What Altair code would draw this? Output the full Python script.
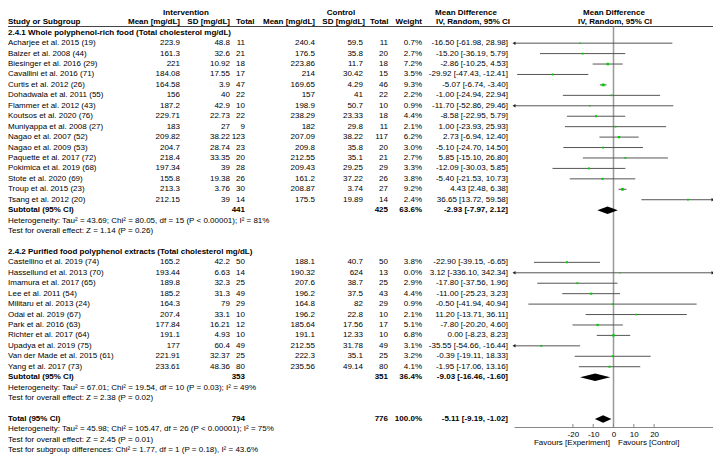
import altair as alt
import pandas as pd

FONT = "Liberation Sans"

# ---------------- data ----------------
g1_study = ["Acharjee et al. 2015 (19)", "Balzer et al. 2008 (44)", "Biesinger et al. 2016 (29)",
            "Cavallini et al. 2016 (71)", "Curtis et al. 2012 (26)", "Dohadwala et al. 2011 (55)",
            "Flammer et al. 2012 (43)", "Koutsos et al. 2020 (76)", "Muniyappa et al. 2008 (27)",
            "Nagao et al. 2007 (52)", "Nagao et al. 2009 (53)", "Paquette et al. 2017 (72)",
            "Pokimica et al. 2019 (68)", "Stote et al. 2020 (69)", "Troup et al. 2015 (23)",
            "Tsang et al. 2012 (20)"]
g1_i_mean = [223.9, 161.3, 221, 184.08, 164.58, 156, 187.2, 229.71, 183, 209.82, 204.7, 218.4, 197.34, 155.8, 213.3, 212.15]
g1_i_sd = [48.8, 32.6, 10.92, 17.55, 3.9, 40, 42.9, 22.73, 27, 38.22, 28.74, 33.35, 39, 19.38, 3.76, 39]
g1_i_n = [11, 21, 18, 17, 47, 22, 10, 22, 9, 123, 23, 20, 28, 26, 30, 14]
g1_c_mean = [240.4, 176.5, 223.86, 214, 169.65, 157, 198.9, 238.29, 182, 207.09, 209.8, 212.55, 209.43, 161.2, 208.87, 175.5]
g1_c_sd = [59.5, 35.8, 11.7, 30.42, 4.29, 41, 50.7, 23.33, 29.8, 38.22, 35.8, 35.1, 29.25, 37.22, 3.74, 19.89]
g1_c_n = [11, 20, 18, 15, 46, 22, 10, 18, 11, 117, 20, 21, 29, 26, 27, 14]
g1_w = [0.7, 2.7, 7.2, 3.5, 9.3, 2.2, 0.9, 4.4, 2.1, 6.2, 3.0, 2.7, 3.3, 3.8, 9.2, 2.4]
g1_md = [-16.50, -15.20, -2.86, -29.92, -5.07, -1.00, -11.70, -8.58, 1.00, 2.73, -5.10, 5.85, -12.09, -5.40, 4.43, 36.65]
g1_lo = [-61.98, -36.19, -10.25, -47.43, -6.74, -24.94, -52.86, -22.95, -23.93, -6.94, -24.70, -15.10, -30.03, -21.53, 2.48, 13.72]
g1_hi = [28.98, 5.79, 4.53, -12.41, -3.40, 22.94, 29.46, 5.79, 25.93, 12.40, 14.50, 26.80, 5.85, 10.73, 6.38, 59.58]

g2_study = ["Castellino et al.  2019 (74)", "Hassellund et al. 2013 (70)", "Imamura et al. 2017 (65)",
            "Lee et al. 2011 (54)", "Militaru et al. 2013 (24)", "Odai et al. 2019 (67)",
            "Park et al. 2016 (63)", "Richter et al. 2017 (64)", "Upadya et al. 2019 (75)",
            "Van der Made et al. 2015 (61)", "Yang et al. 2017 (73)"]
g2_i_mean = [165.2, 193.44, 189.8, 185.2, 164.3, 207.4, 177.84, 191.1, 177, 221.91, 233.61]
g2_i_sd = [42.2, 6.63, 32.3, 31.3, 79, 33.1, 16.21, 4.93, 60.4, 32.37, 48.36]
g2_i_n = [50, 14, 25, 49, 29, 10, 12, 10, 49, 25, 80]
g2_c_mean = [188.1, 190.32, 207.6, 196.2, 164.8, 196.2, 185.64, 191.1, 212.55, 222.3, 235.56]
g2_c_sd = [40.7, 624, 38.7, 37.5, 82, 22.8, 17.56, 12.33, 31.78, 35.1, 49.14]
g2_c_n = [50, 13, 25, 43, 29, 10, 17, 10, 49, 25, 80]
g2_w = [3.8, 0.0, 2.9, 4.4, 0.9, 2.1, 5.1, 6.8, 3.1, 3.2, 4.1]
g2_md = [-22.90, 3.12, -17.80, -11.00, -0.50, 11.20, -7.80, 0.00, -35.55, -0.39, -1.95]
g2_lo = [-39.15, -336.10, -37.56, -25.23, -41.94, -13.71, -20.20, -8.23, -54.66, -19.11, -17.06]
g2_hi = [-6.65, 342.34, 1.96, 3.23, 40.94, 36.11, 4.60, 8.23, -16.44, 18.33, 13.16]

sub_labels = ["2.4.1 Whole polyphenol-rich food (Total cholesterol mg/dL)",
              "2.4.2 Purified food polyphenol extracts (Total cholesterol mg/dL)"]
pooled_name = ["Subtotal (95% CI)", "Subtotal (95% CI)", "Total (95% CI)"]
pooled_i_n = [441, 353, 794]
pooled_c_n = [425, 351, 776]
pooled_w = [63.6, 36.4, 100.0]
pooled_md = [-2.93, -9.03, -5.11]
pooled_lo = [-7.97, -16.46, -9.19]
pooled_hi = [2.12, -1.60, -1.02]
notes1 = ["Heterogeneity: Tau² = 43.69; Chi² = 80.05, df = 15 (P < 0.00001); I² = 81%",
          "Test for overall effect: Z = 1.14 (P = 0.26)"]
notes2 = ["Heterogeneity: Tau² = 67.01; Chi² = 19.54, df = 10 (P = 0.03); I² = 49%",
          "Test for overall effect: Z = 2.38 (P = 0.02)"]
notes_total = ["Heterogeneity: Tau² = 45.98; Chi² = 105.47, df = 26 (P < 0.00001); I² = 75%",
               "Test for overall effect: Z = 2.45 (P = 0.01)",
               "Test for subgroup differences: Chi² = 1.77, df = 1 (P = 0.18), I² = 43.6%"]
axis_ticks = [-20, -10, 0, 10, 20]
x_limits = [-49, 49]

# ---------------- tables ----------------
rows = []
forest = []
pooled = []
EMPTY = dict(im="", isd="", itn="", cm="", csd="", ctn="", wt="", md="")


def ci_text(m, l, h):
    return f"{m:.2f} [{l:.2f}, {h:.2f}]"


def add_pooled(r, k):
    d = dict(EMPTY)
    d.update(itn=str(pooled_i_n[k]), ctn=str(pooled_c_n[k]), wt=f"{pooled_w[k]:.1f}%",
             md=ci_text(pooled_md[k], pooled_lo[k], pooled_hi[k]))
    rows.append(dict(row=r, label=pooled_name[k], bold=True, **d))
    pooled.append(dict(row=r, md=pooled_md[k], lo=pooled_lo[k], hi=pooled_hi[k], k=k))


def add_group(start, header, names, im, isd, itn, cm, csd, ctn, w, md, lo, hi, k, notes):
    r = start
    rows.append(dict(row=r, label=header, bold=True, **EMPTY))
    r += 1
    for i in range(len(names)):
        rows.append(dict(row=r, label=names[i], bold=False, im=str(im[i]), isd=str(isd[i]), itn=str(itn[i]),
                         cm=str(cm[i]), csd=str(csd[i]), ctn=str(ctn[i]), wt=f"{w[i]:.1f}%",
                         md=ci_text(md[i], lo[i], hi[i])))
        forest.append(dict(row=r, md=md[i], lo=lo[i], hi=hi[i], w=w[i]))
        r += 1
    add_pooled(r, k)
    r += 1
    for n in notes:
        rows.append(dict(row=r, label=n, bold=False, **EMPTY))
        r += 1
    return r


r = add_group(0, sub_labels[0], g1_study, g1_i_mean, g1_i_sd, g1_i_n, g1_c_mean, g1_c_sd, g1_c_n,
              g1_w, g1_md, g1_lo, g1_hi, 0, notes1)
r = add_group(r + 1, sub_labels[1], g2_study, g2_i_mean, g2_i_sd, g2_i_n, g2_c_mean, g2_c_sd, g2_c_n,
              g2_w, g2_md, g2_lo, g2_hi, 1, notes2)
r += 1
add_pooled(r, 2)
r += 1
for n in notes_total:
    rows.append(dict(row=r, label=n, bold=False, **EMPTY))
    r += 1

rows_df = pd.DataFrame(rows)
forest_df = pd.DataFrame(forest)
forest_df["lo_c"] = forest_df["lo"].clip(lower=x_limits[0])
forest_df["hi_c"] = forest_df["hi"].clip(upper=x_limits[1])
arrows_l = forest_df[forest_df["lo"] < x_limits[0]].assign(ax=x_limits[0])
arrows_r = forest_df[forest_df["hi"] > x_limits[1]].assign(ax=x_limits[1])

HALF = 0.36
dia = []
for p in pooled:
    dia.append(dict(k=p["k"], x=p["lo"], ya=p["row"], yb=p["row"]))
    dia.append(dict(k=p["k"], x=p["md"], ya=p["row"] - HALF, yb=p["row"] + HALF))
    dia.append(dict(k=p["k"], x=p["hi"], ya=p["row"], yb=p["row"]))
dia_df = pd.DataFrame(dia)

# ---------------- layout ----------------
W, H = 705, 419
XSCALE = alt.Scale(domain=x_limits, range=[506, 705], nice=False, zero=False)
YSCALE = alt.Scale(domain=[-2.37, 37.776], reverse=True, nice=False, zero=False)
XAXIS = alt.Axis(values=axis_ticks, ticks=False, labelPadding=3, domainColor="#888", domainWidth=1,
                 labelFont=FONT, labelFontSize=8, labelColor="#000", grid=False, title=None,
                 labelExpr="'' + datum.value")


def X(f):
    return alt.X(f, type="quantitative", scale=XSCALE, axis=XAXIS)


def Y(f):
    return alt.Y(f, type="quantitative", scale=YSCALE, axis=None)


layers = []

one = pd.DataFrame({"v": [0]})
layers.append(alt.Chart(one).mark_rule(color="#444", strokeWidth=1).encode(
    x=alt.value(0), x2=alt.value(W), y=alt.value(18.5)))
layers.append(alt.Chart(one).mark_rule(color="#999", strokeWidth=1.5).encode(
    x=X("v"), y=alt.value(18.5), y2=alt.value(H)))
layers.append(alt.Chart(pd.DataFrame({"v": axis_ticks})).mark_rule(color="#888", strokeWidth=1).encode(
    x=X("v"), y=alt.value(H - 3), y2=alt.value(H)))

layers.append(alt.Chart(forest_df).mark_rule(color="#555", strokeWidth=1).encode(
    x=X("lo_c"), x2="hi_c", y=Y("row")))
layers.append(alt.Chart(arrows_l).mark_point(shape="triangle-left", filled=True, color="#222", size=12,
                                             opacity=1).encode(x=X("ax"), y=Y("row")))
layers.append(alt.Chart(arrows_r).mark_point(shape="triangle-right", filled=True, color="#222", size=12,
                                             opacity=1).encode(x=X("ax"), y=Y("row")))
layers.append(alt.Chart(forest_df).mark_square(color="#00cc00", opacity=1).encode(
    x=X("md"), y=Y("row"),
    size=alt.Size("w:Q", scale=alt.Scale(domain=[0, 10], range=[1.5, 8]), legend=None)))
layers.append(alt.Chart(dia_df).mark_area(color="#000", orient="vertical", opacity=1).encode(
    x=X("x"), y=Y("ya"), y2="yb", detail="k:N"))

cols = [("label", 0, "left"), ("im", 172, "right"), ("isd", 222, "right"), ("itn", 237, "right"),
        ("cm", 307, "right"), ("csd", 355, "right"), ("ctn", 380, "right"), ("wt", 414, "right"),
        ("md", 500, "right")]
for field, xp, al in cols:
    for b in (False, True):
        layers.append(alt.Chart(rows_df).transform_filter("datum.bold" if b else "!datum.bold").mark_text(
            align=al, baseline="middle", font=FONT, fontSize=8, color="#000",
            fontWeight="bold" if b else "normal").encode(
            x=alt.value(xp), y=Y("row"), text=f"{field}:N"))


def label(txt, xp, yp, al, bold=True):
    return alt.Chart(pd.DataFrame({"t": [txt]})).mark_text(
        align=al, baseline="middle", font=FONT, fontSize=8, color="#000",
        fontWeight="bold" if bold else "normal").encode(x=alt.value(xp), y=alt.value(yp), text="t:N")


hy1, hy2 = 4.5, 13.8
layers += [
    label("Intervention", 178, hy1, "center"),
    label("Control", 333, hy1, "center"),
    label("Mean Difference", 458, hy1, "center"),
    label("Mean Difference", 606, hy1, "center"),
    label("Study or Subgroup", 0, hy2, "left"),
    label("Mean [mg/dL]", 172, hy2, "right"),
    label("SD [mg/dL]", 222, hy2, "right"),
    label("Total", 228, hy2, "left"),
    label("Mean [mg/dL]", 307, hy2, "right"),
    label("SD [mg/dL]", 357, hy2, "right"),
    label("Total", 362, hy2, "left"),
    label("Weight", 414, hy2, "right"),
    label("IV, Random, 95% CI", 465, hy2, "center"),
    label("IV, Random, 95% CI", 607, hy2, "center"),
    label("Favours [Experiment]", 602, 434.5, "right", bold=False),
    label("Favours [Control]", 610, 434.5, "left", bold=False),
]

chart = alt.layer(*layers).properties(
    width=W, height=H,
    padding={"left": 0, "top": 0, "right": 0, "bottom": 27},
    autosize=alt.AutoSizeParams(type="none"),
).configure_view(stroke=None)

chart.save("out.html", embed_options={"renderer": "svg", "actions": False})
